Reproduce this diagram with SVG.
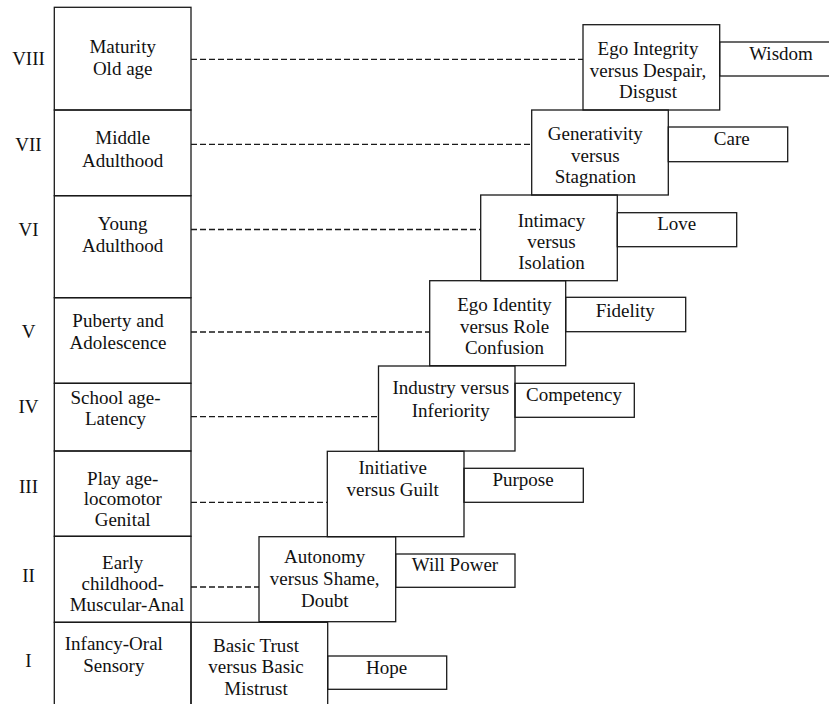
<svg xmlns="http://www.w3.org/2000/svg" width="829" height="704" viewBox="0 0 829 704">
<style>
rect{fill:none;stroke:#1a1a1a;stroke-width:1.3}
.bg{fill:#fff;stroke:none}
.t text{font-family:'Liberation Serif','DejaVu Serif','Times New Roman',Times,serif;font-size:19px;fill:#111;text-anchor:middle}
.dash{stroke:#1a1a1a;stroke-width:1.3;stroke-dasharray:6 3;fill:none}
</style>
<rect class="bg" x="0" y="0" width="829" height="704"/>
<g id="connectors">
<line class="dash" x1="191" y1="59.3" x2="583" y2="59.3"/>
<line class="dash" x1="191" y1="144.3" x2="531.7" y2="144.3"/>
<line class="dash" x1="191" y1="229.5" x2="480.7" y2="229.5"/>
<line class="dash" x1="191" y1="332" x2="429.7" y2="332"/>
<line class="dash" x1="191" y1="416.7" x2="378.5" y2="416.7"/>
<line class="dash" x1="191" y1="502.3" x2="327.3" y2="502.3"/>
<line class="dash" x1="191" y1="587" x2="259" y2="587"/>
</g>
<g class="t" style="font-family:'Liberation Serif',serif">
<g id="numerals">
<text x="28.5" y="65">VIII</text>
<text x="28.5" y="150.7">VII</text>
<text x="28.5" y="235.5">VI</text>
<text x="28.5" y="338.3">V</text>
<text x="28.5" y="412.7">IV</text>
<text x="28.5" y="493.3">III</text>
<text x="28.5" y="581.7">II</text>
<text x="28.5" y="666.7">I</text>
</g>
<g id="age-8"><rect x="54.3" y="7.3" width="136.7" height="102.7"/><text x="122.7" y="53.3">Maturity</text><text x="122.7" y="75">Old age</text></g>
<g id="age-7"><rect x="54.3" y="110" width="136.7" height="85.7"/><text x="122.7" y="144">Middle</text><text x="122.7" y="166.7">Adulthood</text></g>
<g id="age-6"><rect x="54.3" y="195.7" width="136.7" height="102"/><text x="122.7" y="230">Young</text><text x="122.7" y="251.7">Adulthood</text></g>
<g id="age-5"><rect x="54.3" y="297.7" width="136.7" height="85.6"/><text x="118" y="326.7">Puberty and</text><text x="118" y="349.3">Adolescence</text></g>
<g id="age-4"><rect x="54.3" y="383.3" width="136.7" height="67.7"/><text x="115.5" y="404">School age-</text><text x="115.5" y="425">Latency</text></g>
<g id="age-3"><rect x="54.3" y="451" width="136.7" height="85.3"/><text x="122.7" y="485">Play age-</text><text x="122.7" y="504.5">locomotor</text><text x="122.7" y="525.7">Genital</text></g>
<g id="age-2"><rect x="54.3" y="536.3" width="136.7" height="86"/><text x="122.7" y="569">Early</text><text x="122.7" y="589.5">childhood-</text><text x="127" y="610.7">Muscular-Anal</text></g>
<g id="age-1"><rect x="54.3" y="622.3" width="136.7" height="100"/><text x="113.8" y="650">Infancy-Oral</text><text x="113.8" y="672.3">Sensory</text></g>
<g id="crisis-8"><rect x="583" y="24.7" width="136.7" height="85.3"/><text x="648" y="55">Ego Integrity</text><text x="648" y="76.7">versus Despair,</text><text x="648" y="98.3">Disgust</text></g>
<g id="virtue-8"><rect x="719.7" y="42" width="115" height="34"/><text x="781" y="60">Wisdom</text></g>
<g id="crisis-7"><rect x="531.7" y="110" width="136.6" height="85"/><text x="595.3" y="140">Generativity</text><text x="595.3" y="161.7">versus</text><text x="595.3" y="183.3">Stagnation</text></g>
<g id="virtue-7"><rect x="668.3" y="127" width="119.4" height="34.7"/><text x="731.8" y="145">Care</text></g>
<g id="crisis-6"><rect x="480.7" y="195" width="136.6" height="85.7"/><text x="551.5" y="226.7">Intimacy</text><text x="551.5" y="248.3">versus</text><text x="551.5" y="269.3">Isolation</text></g>
<g id="virtue-6"><rect x="617.3" y="212.7" width="119.4" height="34"/><text x="676.7" y="230">Love</text></g>
<g id="crisis-5"><rect x="429.7" y="280.7" width="136" height="85"/><text x="504.5" y="311">Ego Identity</text><text x="504.5" y="332.7">versus Role</text><text x="504.5" y="354">Confusion</text></g>
<g id="virtue-5"><rect x="565.7" y="297.3" width="120" height="34.4"/><text x="625.3" y="316.7">Fidelity</text></g>
<g id="crisis-4"><rect x="378.5" y="366" width="136.5" height="85"/><text x="450.8" y="394">Industry versus</text><text x="450.8" y="416.7">Inferiority</text></g>
<g id="virtue-4"><rect x="515" y="383.3" width="119.3" height="34"/><text x="574" y="400.7">Competency</text></g>
<g id="crisis-3"><rect x="327.3" y="451.3" width="136.7" height="85.4"/><text x="392.7" y="474.3">Initiative</text><text x="392.7" y="495.7">versus Guilt</text></g>
<g id="virtue-3"><rect x="464" y="468.3" width="119.3" height="34"/><text x="523" y="486">Purpose</text></g>
<g id="crisis-2"><rect x="259" y="536.7" width="136.7" height="85"/><text x="324.7" y="563.3">Autonomy</text><text x="324.7" y="585">versus Shame,</text><text x="324.7" y="606.7">Doubt</text></g>
<g id="virtue-2"><rect x="395.7" y="554" width="119.3" height="33.3"/><text x="455" y="571">Will Power</text></g>
<g id="crisis-1"><rect x="191" y="622.3" width="136.7" height="100"/><text x="256" y="651.7">Basic Trust</text><text x="256" y="673.3">versus Basic</text><text x="256" y="695">Mistrust</text></g>
<g id="virtue-1"><rect x="327.7" y="656" width="119" height="33.3"/><text x="386.7" y="674">Hope</text></g>
</g>
</svg>
